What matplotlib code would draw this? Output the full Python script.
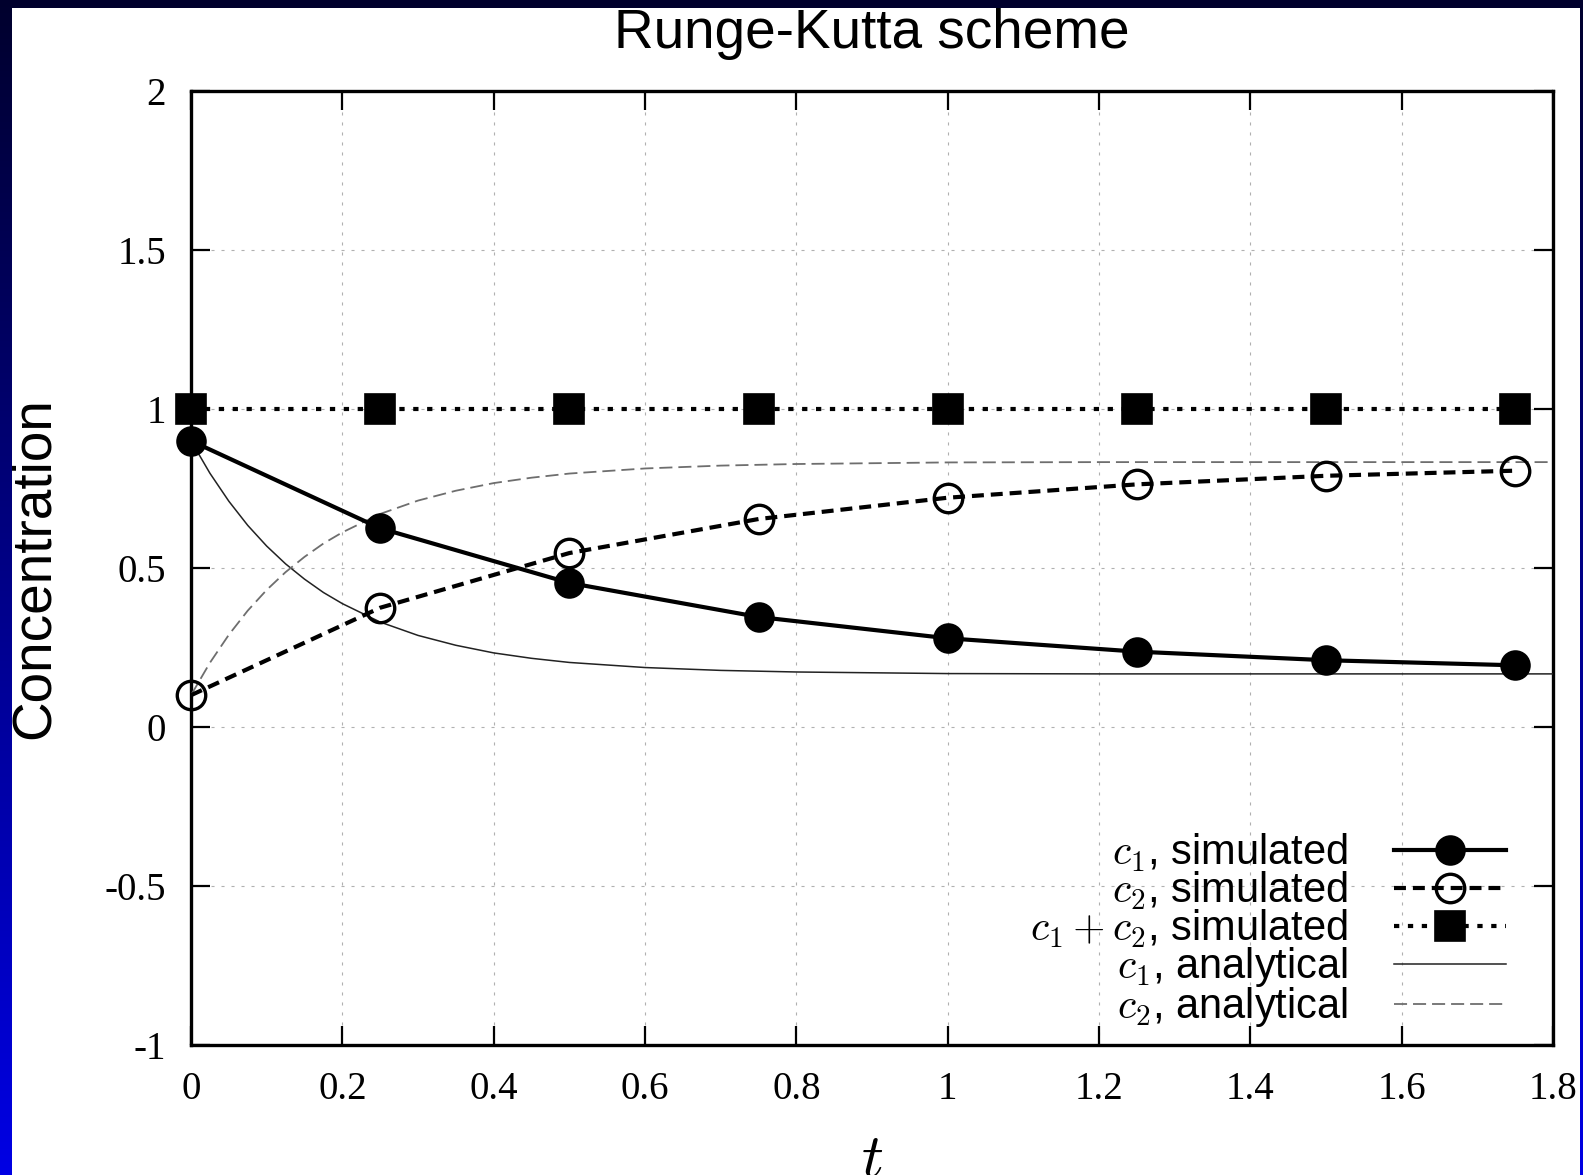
import numpy as np
import matplotlib

matplotlib.use('Agg')
import matplotlib.pyplot as plt
from matplotlib.ticker import FuncFormatter, MultipleLocator

plt.rcParams['font.family'] = 'Liberation Serif'
plt.rcParams['mathtext.fontset'] = 'cm'
plt.rcParams['lines.scale_dashes'] = False

# simulated concentrations, time step 0.25
t_sim = [0.0, 0.25, 0.5, 0.75, 1.0, 1.25, 1.5, 1.75]
c1_sim = [0.900, 0.625, 0.453, 0.346, 0.279, 0.237, 0.210, 0.194]
c2_sim = [0.100, 0.375, 0.547, 0.654, 0.721, 0.763, 0.790, 0.806]
sum_sim = [1.0, 1.0, 1.0, 1.0, 1.0, 1.0, 1.0, 1.0]

# analytical solution
t_ana = [0.0, 0.025, 0.05, 0.075, 0.1, 0.125, 0.15, 0.175, 0.2, 0.25, 0.3,
         0.35, 0.4, 0.45, 0.5, 0.6, 0.7, 0.8, 1.0, 1.2, 1.4, 1.6, 1.8]
c1_ana = [0.900, 0.798, 0.710, 0.634, 0.569, 0.513, 0.465, 0.423, 0.388, 0.330,
          0.288, 0.257, 0.233, 0.216, 0.203, 0.187, 0.178, 0.173, 0.168, 0.167,
          0.167, 0.167, 0.167]
c2_ana = [0.100, 0.202, 0.290, 0.366, 0.431, 0.487, 0.535, 0.577, 0.612, 0.670,
          0.712, 0.743, 0.767, 0.784, 0.797, 0.813, 0.822, 0.827, 0.832, 0.833,
          0.833, 0.833, 0.833]

labels = [r'$c_1$, simulated', r'$c_2$, simulated', r'$c_1+c_2$, simulated',
          r'$c_1$, analytical', r'$c_2$, analytical']

W, H = 1583, 1175
fig = plt.figure(figsize=(W / 100, H / 100), dpi=100)
fig.patch.set_facecolor('white')
ax = fig.add_axes([191 / W, 1 - 1045 / H, (1553 - 191) / W, (1045 - 91) / H])

# blue slide frame around the plot
frame = np.zeros((H, W, 4))
frame[:, :, 2] = np.linspace(45, 228, H)[:, None] / 255
mask = np.zeros((H, W), dtype=bool)
mask[:8, :] = True
mask[:, :12] = True
mask[:, 1580:] = True
frame[:, :, 3] = mask
fig.figimage(frame, 0, 0, origin='upper', zorder=10)

l1, = ax.plot(t_sim, c1_sim, color='black', lw=3.0, marker='o', ms=20.5,
              mew=1.5, clip_on=False, zorder=5)
l2, = ax.plot(t_sim, c2_sim, color='black', lw=3.0, ls=(0, (8.6, 5)),
              marker='o', ms=20.5, mew=2.4, mfc='none', clip_on=False, zorder=5)
l3, = ax.plot(t_sim, sum_sim, color='black', lw=3.0, ls=(0, (3.8, 6.2)),
              marker='s', ms=21, mew=1.2, clip_on=False, zorder=5)
l4, = ax.plot(t_ana, c1_ana, color='#222222', lw=1.1, zorder=4)
l5, = ax.plot(t_ana, c2_ana, color='#6e6e6e', lw=1.3, ls=(0, (9.4, 4.3)), zorder=4)

ax.set_xlim(0, 1.8)
ax.set_ylim(-1, 2)
ax.xaxis.set_major_locator(MultipleLocator(0.2))
ax.yaxis.set_major_locator(MultipleLocator(0.5))
fmt = FuncFormatter(lambda v, p: '%g' % round(v, 6))
ax.xaxis.set_major_formatter(fmt)
ax.yaxis.set_major_formatter(fmt)

ax.grid(True, color='#b0b0b0', lw=0.8, ls=(0, (2.2, 5)))
ax.tick_params(direction='in', length=13.7, width=1.6, top=True, right=True,
               labelsize=28)
ax.tick_params(axis='y', pad=18)
ax.tick_params(axis='x', pad=19)
for sp in ax.spines.values():
    sp.set_linewidth(2.4)

ax.set_title('Runge-Kutta scheme', fontsize=39.5, family='Liberation Sans', pad=30.6)
ax.set_ylabel('Concentration', fontsize=39.5, family='Liberation Sans')
ax.yaxis.set_label_coords(-0.0955, 0.5)
ax.set_xlabel('$t$', fontsize=44)
ax.xaxis.set_label_coords(0.5, -0.0925)

ax.legend([l1, l2, l3, l4, l5], labels, loc='lower right',
          bbox_to_anchor=(0.9655, 0.0165), frameon=False, markerfirst=False,
          alignment='right', handlelength=2.7, handletextpad=1.1,
          labelspacing=-0.1, borderpad=0, borderaxespad=0, numpoints=1,
          prop={'family': 'Liberation Sans', 'size': 30})

fig.savefig('out.png', dpi=100)
